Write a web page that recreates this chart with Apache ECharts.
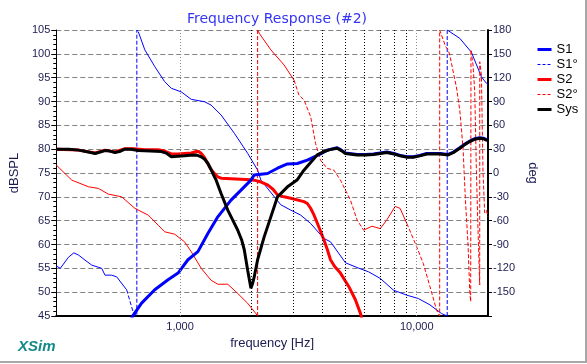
<!DOCTYPE html>
<html><head><meta charset="utf-8">
<script src="https://cdn.jsdelivr.net/npm/echarts@6/dist/echarts.min.js"></script>
<style>html,body{margin:0;padding:0;background:#fff}#c{width:587px;height:364px}</style>
</head><body><div id="c"></div>
<script>
// ---- data (frequency Hz, value) ----
const sysSpl = [[300,80.0],[340,80.0],[373,79.8],[410,79.4],[438,79.1],[460,79.4],[482,79.7],[505,79.6],[531,79.3],[555,79.5],[585,80.0],[620,80.0],[666,79.7],[750,79.6],[834,79.5],[880,79.1],[919,78.4],[980,78.5],[1045,78.6],[1100,78.7],[1171,78.8],[1229,78.4],[1270,77.9],[1311,77.0],[1350,75.8],[1398,74.2],[1421,73.5],[1491,70.7],[1591,67.2],[1690,64.6],[1753,63.0],[1820,61.0],[1868,58.9],[1931,54.6],[1965,52.5],[1993,50.8],[2025,51.8],[2058,53.2],[2127,56.8],[2267,61.6],[2419,65.8],[2581,70.0],[2843,72.1],[2935,72.6],[3131,73.6],[3338,75.6],[3562,77.2],[3800,78.8],[4052,79.5],[4300,79.9],[4612,80.2],[4800,79.7],[4998,79.1],[5597,78.8],[6100,78.8],[6571,78.9],[7478,79.3],[8000,79.0],[8509,78.6],[9100,78.3],[9676,78.3],[10300,78.6],[11015,79.0],[12530,79.0],[13580,78.8],[14300,79.3],[15200,80.2],[16000,81.0],[16750,81.6],[17600,82.1],[18450,82.3],[19100,82.2],[19690,81.9],[20000,81.8]];
const s2Spl = [[300,80.0],[373,79.8],[438,79.2],[482,79.8],[531,79.4],[585,80.1],[640,80.1],[710,79.9],[808,79.9],[861,79.6],[919,79.0],[980,79.0],[1045,79.1],[1116,79.2],[1171,79.5],[1200,79.5],[1229,79.1],[1270,78.2],[1311,77.0],[1350,75.8],[1398,74.9],[1444,74.2],[1491,73.9],[1642,73.8],[1993,73.6],[2058,73.5],[2200,73.1],[2343,72.5],[2470,71.6],[2581,70.4],[2750,70.0],[2935,69.7],[3338,69.0],[3450,68.6],[3562,67.6],[3680,66.2],[3800,64.5],[4052,61.0],[4186,59.0],[4322,56.8],[4500,55.4],[4761,54.0],[5160,51.2],[5506,48.4],[5779,45.6],[5900,44.0]];
const s1Spl = [[610,43.5],[635,45.2],[688,47.7],[782,50.5],[890,52.6],[981,54.0],[1080,56.8],[1190,58.5],[1311,62.3],[1444,65.8],[1642,69.3],[1810,71.4],[1993,73.5],[2058,74.6],[2343,74.9],[2581,76.0],[2843,76.9],[3131,77.0],[3450,77.7],[3924,79.0],[4186,79.8],[4612,80.3],[4800,79.8],[4998,79.2],[5597,78.9],[6100,78.9],[6571,79.0],[7478,79.4],[8000,79.1],[8509,78.7],[9100,78.4],[9676,78.4],[10300,78.7],[11015,79.1],[12530,79.1],[13580,78.9],[14300,79.4],[15200,80.3],[16000,81.1],[16750,81.7],[17600,82.2],[18450,82.4],[19100,82.3],[19690,82.0],[20000,81.9]];
// phase (deg); null marks a break in the trace
const s1PhaseSolid = [[300,-117],[312,-120],[338,-106],[356,-100.5],[373,-103.4],[397,-109.7],[424,-116],[467,-120],[482,-128.6],[514,-128.6],[540,-130.7],[595,-147],[595,null],[666,178],[710,155],[782,134],[861,115],[919,106.6],[1013,102],[1116,92.7],[1269,89.7],[1353,85.5],[1491,73],[1696,50],[1931,24.7],[2127,3.7],[2196,-9],[2665,-40],[2935,-46.7],[3233,-53],[3562,-63.5],[4052,-82.4],[4322,-86.6],[4998,-113],[5597,-119],[6261,-124.4],[7013,-132.7],[7976,-147.5],[9078,-153.8],[10156,-158],[11373,-166],[12735,-177],[13450,-180],[13450,null],[13450,180],[13710,178],[15200,169.5],[17020,152],[18760,121],[19690,113],[20000,111]];
const s1PhaseDashed = [[595,-147],[635,-176],[657,-180],[657,180],[666,178],[666,null],[13450,-180],[13450,180]];
const s2PhaseSolid = [[300,10],[349,-9],[411,-17.4],[452,-19.4],[498,-26.6],[567,-30],[645,-44.6],[734,-53],[808,-65.6],[861,-74],[949,-77],[1045,-86.6],[1116,-99.2],[1229,-120],[1353,-135],[1444,-140],[1591,-140],[1753,-151.6],[1931,-164],[2092,-177],[2127,-180],[2127,null],[2127,180],[2160,176],[2419,155],[2751,136],[3030,117],[3030,null],[5965,-72],[6470,-67],[7013,-70],[7478,-59],[8108,-42],[8509,-44.6],[9078,-63.5]];
const s2PhaseDashed = [[2127,-180],[2127,180],[2127,null],[3030,117],[3180,98],[3338,92],[3562,71],[3739,37],[3924,16],[4186,5.8],[4462,3.7],[4761,-9],[5245,-34],[5597,-59],[5965,-72],[5965,null],[9078,-63.5],[10000,-93],[10659,-114],[11373,-143],[12135,-172.7],[12500,-180],[12500,180],[12735,178],[13245,159],[13580,155],[13800,148],[14730,107],[15200,79],[15500,50],[15700,30],[15850,2],[16100,-40],[16470,-90],[16750,-150],[16900,-162],[16950,155],[17290,136],[17580,102],[17870,1.5],[18150,-72],[18450,-141],[18460,140],[18760,123],[19050,2],[19360,-50],[19690,-47],[20000,-55]];
// axis / grid
const xLabelValues = [1000, 10000];
const xLabelTexts = ['1,000', '10,000'];
const decadeGrid = [1000, 10000];
const innerGrid = [2000, 3000, 4000, 5000, 6000, 7000, 8000, 9000];

const FONT = '"Liberation Sans", Arial, sans-serif';
const LABEL = '#1c1c50';
const chart = echarts.init(document.getElementById('c'), null, {renderer: 'canvas'});

const markData = decadeGrid.map(v => ({xAxis: v, lineStyle: {color: '#8a8a8a', type: [1, 2], width: 1}}))
  .concat(innerGrid.map(v => ({xAxis: v, lineStyle: {color: '#000', type: [1, 2], width: 1}})));

const hid = {opacity: 0};
const option = {
  animation: false,
  backgroundColor: '#fff',
  title: {text: 'Frequency Response (#2)', left: 182, top: 7,
    textStyle: {color: '#3434f4', fontSize: 14, fontWeight: 'normal', fontFamily: '"DejaVu Sans", sans-serif'}},
  grid: {left: 54, right: 99, top: 30, bottom: 48, show: false},
  legend: {
    orient: 'vertical', left: 531, top: 38, itemWidth: 14, itemHeight: 14, itemGap: 2,
    selectedMode: false,
    itemStyle: hid,
    textStyle: {fontSize: 13, color: '#000', fontFamily: FONT},
    data: [
      {name: 'S1', itemStyle: hid, lineStyle: {width: 3, type: 'solid', color: '#0000ff'}},
      {name: 'S1°', itemStyle: hid, lineStyle: {width: 1, type: [3, 2], color: '#0000ff'}},
      {name: 'S2', itemStyle: hid, lineStyle: {width: 3, type: 'solid', color: '#ff0000'}},
      {name: 'S2°', itemStyle: hid, lineStyle: {width: 1, type: [3, 2], color: '#ff0000'}},
      {name: 'Sys', itemStyle: hid, lineStyle: {width: 3, type: 'solid', color: '#000000'}}
    ]
  },
  xAxis: {
    type: 'log', logBase: 10, min: 300, max: 20000,
    name: 'frequency [Hz]', nameLocation: 'middle', nameGap: 18,
    nameTextStyle: {fontSize: 13, color: LABEL, fontFamily: FONT},
    axisLine: {show: true, onZero: false, lineStyle: {color: '#000', width: 2}},
    axisTick: {show: false},
    splitLine: {show: false},
    axisLabel: {fontSize: 11, color: LABEL, fontFamily: FONT, margin: 5,
      showMinLabel: false, showMaxLabel: false,
      formatter: v => { const i = xLabelValues.indexOf(Math.round(v)); return i >= 0 ? xLabelTexts[i] : ''; }}
  },
  yAxis: [{
    type: 'value', min: 45, max: 105, interval: 5, position: 'left',
    name: 'dBSPL', nameLocation: 'middle', nameGap: 28,
    nameTextStyle: {fontSize: 13, color: LABEL, fontFamily: FONT},
    axisLine: {show: true, lineStyle: {color: '#000', width: 1}},
    axisTick: {show: true, length: 5, lineStyle: {color: '#000'}},
    minorTick: {show: true, splitNumber: 5, length: 3, lineStyle: {color: '#000'}},
    axisLabel: {fontSize: 11, color: LABEL, fontFamily: FONT, margin: 6},
    splitLine: {show: true, lineStyle: {color: '#808080', type: [5, 3], width: 1}}
  }, {
    type: 'value', min: -180, max: 180, interval: 30, position: 'right',
    name: 'deg', nameLocation: 'middle', nameGap: 25, nameRotate: -90,
    nameTextStyle: {fontSize: 13, color: LABEL, fontFamily: FONT},
    axisLine: {show: true, lineStyle: {color: '#000', width: 2}},
    axisTick: {show: true, length: 4, lineStyle: {color: '#000'}},
    axisLabel: {fontSize: 11, color: LABEL, fontFamily: FONT, margin: 5,
      formatter: v => v === -180 ? '' : String(v)},
    splitLine: {show: false}
  }],
  series: [
    {type: 'line', name: 'grid', data: [[300, null]], z: 1, silent: true, symbol: 'none',
      markLine: {silent: true, symbol: 'none', label: {show: false}, animation: false, data: markData}},
    {type: 'line', name: 'S1°', yAxisIndex: 1, data: s1PhaseDashed, z: 2, symbol: 'none', connectNulls: false,
      color: '#0000ff', lineStyle: {color: '#0000ff', width: 1, type: [4, 2]}},
    {type: 'line', name: 'S1°', yAxisIndex: 1, data: s1PhaseSolid, z: 2, symbol: 'none', connectNulls: false,
      color: '#0000ff', lineStyle: {color: '#0000ff', width: 1}},
    {type: 'line', name: 'S2°', yAxisIndex: 1, data: s2PhaseDashed, z: 2, symbol: 'none', connectNulls: false,
      color: '#ff0000', lineStyle: {color: '#ff0000', width: 1, type: [4, 2]}},
    {type: 'line', name: 'S2°', yAxisIndex: 1, data: s2PhaseSolid, z: 2, symbol: 'none', connectNulls: false,
      color: '#ff0000', lineStyle: {color: '#ff0000', width: 1}},
    {type: 'line', name: 'S2', data: s2Spl, z: 3, symbol: 'none', color: '#ff0000', lineStyle: {color: '#ff0000', width: 3}},
    {type: 'line', name: 'S1', data: s1Spl, z: 4, symbol: 'none', color: '#0000ff', lineStyle: {color: '#0000ff', width: 3}},
    {type: 'line', name: 'Sys', data: sysSpl, z: 5, symbol: 'none', color: '#000000', lineStyle: {color: '#000000', width: 3}}
  ],
  graphic: [
    {type: 'text', left: 18, top: 339, style: {text: 'XSim', fill: '#138a8a', font: 'italic bold 15px ' + FONT}},
    {type: 'rect', shape: {x: 0, y: 361, width: 587, height: 2}, style: {fill: '#a8a8a8'}},
    {type: 'rect', shape: {x: 585, y: 0, width: 2, height: 363}, style: {fill: '#a8a8a8'}}
  ]
};
chart.setOption(option);
</script></body></html>
